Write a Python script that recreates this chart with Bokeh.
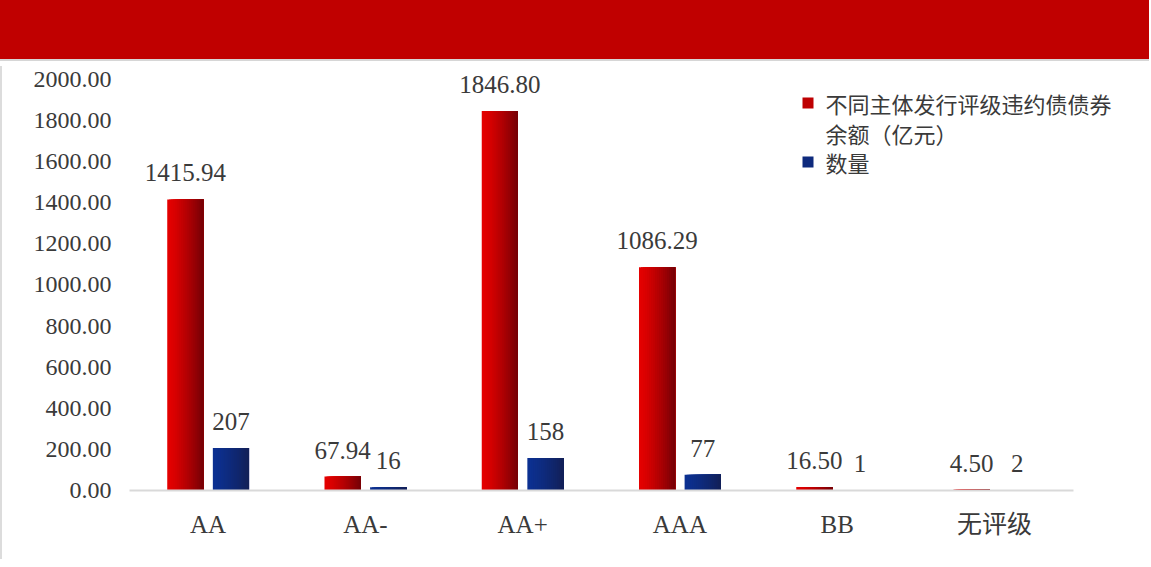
from bokeh.plotting import figure
from bokeh.models import (ColumnDataSource, Range1d, FixedTicker, NumeralTickFormatter,
                          Label, BoxAnnotation, Div)
from bokeh.layouts import column
from bokeh.transform import dodge
from bokeh.core.properties import value
from bokeh.embed import file_html
from bokeh.resources import INLINE

# ---- data ----
categories = ["AA", "AA-", "AA+", "AAA", "BB", "无评级"]
balance = [1415.94, 67.94, 1846.80, 1086.29, 16.50, 4.50]   # 不同主体发行评级违约债债券余额（亿元）
counts = [207, 16, 158, 77, 1, 2]                            # 数量
y_ticks = [0, 200, 400, 600, 800, 1000, 1200, 1400, 1600, 1800, 2000]
series_name_lines = [["不同主体发行评级违约债债券", "余额（亿元）"], ["数量"]]

# ---- style ----
SERIF = "'Liberation Serif', 'Noto Sans CJK SC'"
CJK = "'Noto Sans CJK SC'"
TXT = "#3a3a3a"
red_l, red_r = (228, 0, 0), (120, 0, 6)
blu_l, blu_r = (12, 48, 145), (18, 32, 88)
BAR_W = 0.23
OFF = 0.145
NSTRIP = 18

def mix(a, b, t):
    return "#%02x%02x%02x" % tuple(int(round(a[i] + (b[i] - a[i]) * t)) for i in range(3))

ncat = len(categories)
xpos = [i + 0.5 for i in range(ncat)]
src = ColumnDataSource(dict(
    x=xpos,
    bal=balance,
    cnt=counts,
    bal_lbl=["%.2f" % v for v in balance],
    cnt_lbl=[str(v) for v in counts],
))

banner = Div(text="", width=1154, height=66,
             styles={"background-color": "#C00000", "border-bottom": "2px solid #d6d6d6",
                     "margin-left": "-5px", "margin-top": "-5px"})

p = figure(x_range=Range1d(0, 6.41), y_range=Range1d(0, 2063),
           width=1135, height=493, output_backend="svg", toolbar_location=None,
           min_border_left=127, min_border_right=0, min_border_top=0, min_border_bottom=69,
           background_fill_color="white", border_fill_color="white",
           styles={"border-left": "2px solid #dcdcdc"})
p.outline_line_color = None
p.grid.grid_line_color = None

for fld, off, cl, cr in [("bal", -OFF, red_l, red_r), ("cnt", OFF, blu_l, blu_r)]:
    for k in range(NSTRIP):
        t = k / (NSTRIP - 1)
        left = off - BAR_W / 2 + k * BAR_W / NSTRIP
        right = off + BAR_W / 2
        p.vbar(x=dodge("x", (left + right) / 2), top=fld, width=right - left,
               bottom=0, source=src, fill_color=mix(cl, cr, t ** 1.3), line_color=None)

for fld, off in [("bal", -OFF), ("cnt", OFF)]:
    p.text(x=dodge("x", off), y=fld, text=fld + "_lbl", source=src,
           text_align="center", text_baseline="bottom", y_offset=-18,
           text_font=value(SERIF), text_font_size="25px", text_color=TXT)

# axes
p.yaxis.ticker = FixedTicker(ticks=y_ticks)
p.yaxis.formatter = NumeralTickFormatter(format="0.00")
p.yaxis.axis_line_color = None
p.yaxis.major_tick_line_color = None
p.yaxis.minor_tick_line_color = None
p.yaxis.major_label_standoff = 12
p.yaxis.major_label_text_font = SERIF
p.yaxis.major_label_text_font_size = "24px"
p.yaxis.major_label_text_color = TXT

p.xaxis.ticker = FixedTicker(ticks=xpos)
p.xaxis.major_label_overrides = {x: c for x, c in zip(xpos, categories)}
p.xaxis.bounds = (0, ncat)
p.xaxis.axis_line_color = "#d9d9d9"
p.xaxis.axis_line_width = 2
p.xaxis.major_tick_line_color = None
p.xaxis.minor_tick_line_color = None
p.xaxis.major_tick_out = 0
p.xaxis.major_label_standoff = 20
p.xaxis.major_label_text_font = SERIF
p.xaxis.major_label_text_font_size = "25px"
p.xaxis.major_label_text_color = TXT

# legend (frame-relative screen units)
legend_specs = [(series_name_lines[0], red_l, red_r, 387.5), (series_name_lines[1], blu_l, blu_r, 328.5)]
for lines, cl, cr, ymid in legend_specs:
    p.add_layout(BoxAnnotation(left=673, right=684, bottom=ymid - 5.5, top=ymid + 5.5,
                               left_units="screen", right_units="screen",
                               bottom_units="screen", top_units="screen",
                               fill_color=mix(cl, cr, 0.35), fill_alpha=1, line_color=None,
                               level="overlay"))
    for j, line in enumerate(lines):
        p.add_layout(Label(x=696, y=ymid - 30 * j, x_units="screen", y_units="screen",
                           text=line, text_baseline="middle", text_align="left",
                           text_font=CJK, text_font_size="22px", text_color=TXT))

layout = column(banner, p, spacing=0)
open("out.html", "w").write(file_html(layout, INLINE))
